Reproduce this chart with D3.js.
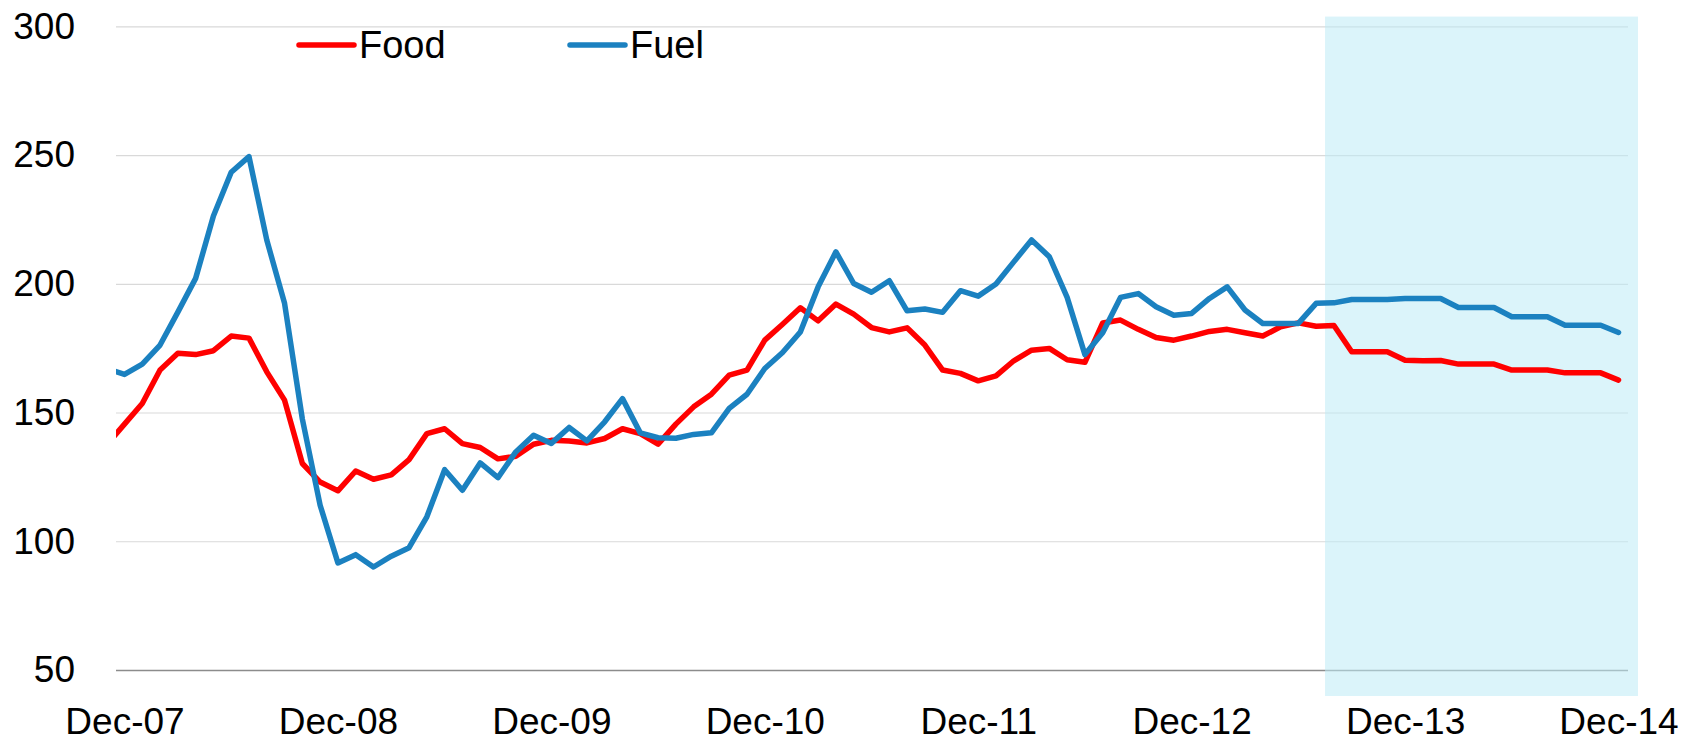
<!DOCTYPE html>
<html>
<head>
<meta charset="utf-8">
<script src="https://cdn.jsdelivr.net/npm/d3@7/dist/d3.min.js"></script>
<style>
  body { margin: 0; background: #fff; }
  svg { display: block; font-family: "Liberation Sans", Arial, sans-serif; }
</style>
</head>
<body>
<svg id="chart" width="1692" height="743"></svg>
<script>
var parseMonth = d3.timeParse("%b-%y"),
    formatMonth = d3.timeFormat("%b-%y");

// monthly, Nov-07 .. Dec-14 (Nov-07 only shows as the clipped stub at the left edge)
var months = d3.timeMonth.range(parseMonth("Nov-07"), d3.timeMonth.offset(parseMonth("Dec-14"), 1))
  .map(formatMonth);

var food = [137.5,
  145.5, 153.5, 166.5, 173.0, 172.5, 174.0, 179.7, 178.9, 165.8, 154.8, 130.2, 123.0,
  119.6, 127.3, 124.1, 125.8, 131.7, 141.8, 143.7, 137.9, 136.4, 132.0, 133.0, 137.7,
  139.2, 138.9, 138.2, 139.9, 143.7, 141.8, 137.7, 145.5, 152.2, 157.1, 164.5, 166.5,
  178.1, 184.3, 190.7, 185.6, 192.1, 188.2, 183.0, 181.3, 182.9, 176.2, 166.5, 165.2,
  162.3, 164.2, 170.1, 174.2, 174.9, 170.5, 169.5, 184.8, 185.9, 182.3, 179.1, 178.1,
  179.7, 181.5, 182.3, 181.0, 179.7, 183.3, 184.8, 183.5, 183.8, 173.6, 173.6, 173.6,
  170.3, 170.1, 170.2, 168.8, 168.8, 168.8, 166.5, 166.5, 166.5, 165.4, 165.4, 165.4,
  162.6];

var fuel = [167.0,
  164.8, 168.8, 176.2, 189.0, 202.1, 226.3, 243.3, 249.4, 217.0, 192.4, 147.5, 114.0,
  91.6, 94.8, 90.0, 94.2, 97.5, 109.5, 127.8, 119.8, 130.4, 124.7, 134.7, 141.2,
  138.0, 144.2, 139.0, 146.4, 155.4, 142.1, 140.2, 140.0, 141.5, 142.1, 151.6, 157.1,
  167.1, 173.3, 181.3, 198.8, 212.4, 200.1, 196.7, 201.2, 189.5, 190.2, 188.9, 197.3,
  195.2, 199.9, 208.5, 217.0, 210.5, 194.7, 172.5, 181.0, 194.7, 196.2, 191.1, 187.8,
  188.5, 194.3, 198.8, 189.8, 184.6, 184.6, 184.6, 192.4, 192.6, 193.9, 193.9, 193.9,
  194.3, 194.3, 194.3, 190.8, 190.8, 190.8, 187.2, 187.2, 187.2, 183.9, 183.9, 183.9,
  181.1];

var tickLabels = ["Dec-07", "Dec-08", "Dec-09", "Dec-10", "Dec-11", "Dec-12", "Dec-13", "Dec-14"];
var yTicks = [50, 100, 150, 200, 250, 300];
var seriesNames = ["Food", "Fuel"];
var forecastFrom = "Aug-13";

var plotLeft = 116, plotRight = 1628, plotTop = 26.3, plotBottom = 670;

var svg = d3.select("#chart");

var x = d3.scalePoint()
  .domain(months)
  .range([106.7, 1618.5]);

var y = d3.scaleLinear()
  .domain([50, 300])
  .range([plotBottom, plotTop]);

var colors = d3.scaleOrdinal()
  .domain(seriesNames)
  .range(["#ff0000", "#1b81c0"]);

svg.append("defs").append("clipPath")
    .attr("id", "plotClip")
  .append("rect")
    .attr("x", plotLeft)
    .attr("y", 0)
    .attr("width", plotRight - plotLeft + 20)
    .attr("height", 743);

// y axis: labels + gridlines
var yAxis = svg.append("g")
  .attr("transform", "translate(" + plotLeft + ",0)")
  .call(d3.axisLeft(y)
    .tickValues(yTicks)
    .tickSizeInner(-(plotRight - plotLeft))
    .tickSizeOuter(0)
    .tickPadding(41));

yAxis.select(".domain").remove();
yAxis.selectAll("line")
  .attr("stroke", function(d) { return d == 50 ? "#8c8c8c" : "#d9d9d9"; })
  .attr("stroke-width", function(d) { return d == 50 ? 1.5 : 1.2; });
yAxis.selectAll("text")
  .attr("font-size", 37)
  .attr("font-family", "Liberation Sans, Arial, sans-serif")
  .attr("fill", "#000");

// projection period shading
var shadeX = x(forecastFrom) - x.step() / 2;
svg.append("rect")
  .attr("x", shadeX)
  .attr("y", 16.6)
  .attr("width", plotRight + 10 - shadeX)
  .attr("height", 696 - 16.6)
  .attr("fill", "rgb(190,235,246)")
  .attr("fill-opacity", 0.55);

// x axis labels
var xAxis = svg.append("g")
  .attr("transform", "translate(0," + plotBottom + ")")
  .call(d3.axisBottom(x)
    .tickValues(tickLabels)
    .tickSize(0)
    .tickPadding(38));

xAxis.select(".domain").remove();
xAxis.selectAll("text")
  .attr("font-size", 37)
  .attr("font-family", "Liberation Sans, Arial, sans-serif")
  .attr("fill", "#000");

var line = d3.line()
  .x(function(d, i) { return x(months[i]); })
  .y(function(d) { return y(d); });

var series = [food, fuel];

svg.append("g")
    .attr("clip-path", "url(#plotClip)")
  .selectAll("path")
  .data(series)
  .enter().append("path")
    .attr("d", line)
    .attr("fill", "none")
    .attr("stroke", function(d, i) { return colors(seriesNames[i]); })
    .attr("stroke-width", 5.5)
    .attr("stroke-linejoin", "round")
    .attr("stroke-linecap", "round");

// legend
var legendX = [299, 570];

var legend = svg.selectAll("g.legendEntry")
  .data(seriesNames)
  .enter()
  .append("g").attr("class", "legendEntry");

legend.append("line")
  .attr("x1", function(d, i) { return legendX[i]; })
  .attr("x2", function(d, i) { return legendX[i] + 55; })
  .attr("y1", 45)
  .attr("y2", 45)
  .attr("stroke", function(d) { return colors(d); })
  .attr("stroke-width", 5.5)
  .attr("stroke-linecap", "round");

legend.append("text")
  .attr("x", function(d, i) { return legendX[i] + 60; })
  .attr("y", 57.5)
  .attr("font-size", 38)
  .attr("fill", "#000")
  .text(function(d) { return d; });
</script>
</body>
</html>
